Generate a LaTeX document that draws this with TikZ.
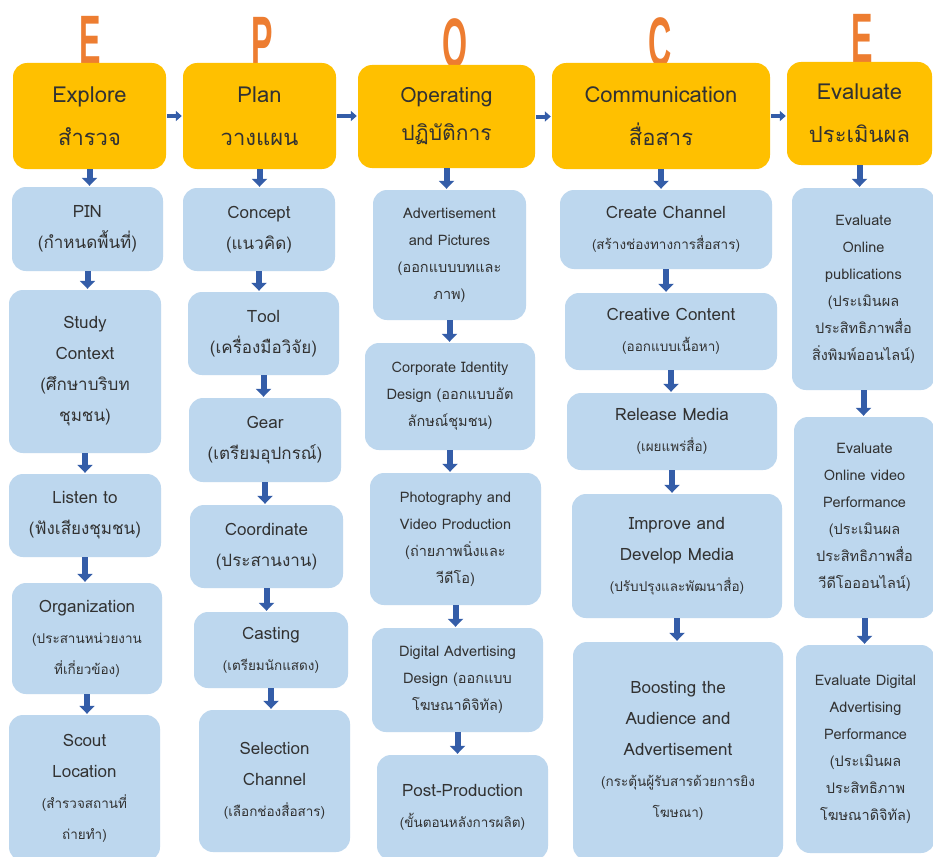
\documentclass[tikz,border=0pt]{standalone}
\usepackage{fontspec}
\setmainfont[Script=Thai]{Loma}
\newfontfamily\letterfont{Liberation Sans}
\usetikzlibrary{arrows.meta, positioning}
\definecolor{headyellow}{RGB}{255,192,0}
\definecolor{stepblue}{RGB}{189,215,238}
\definecolor{arrowblue}{RGB}{52,93,168}
\definecolor{letterorange}{RGB}{237,125,49}
\definecolor{textgray}{RGB}{50,50,50}
\newcommand{\thsmall}[1]{{\fontsize{13.5}{27}\selectfont #1}}
\newcommand{\tallletter}[1]{\scalebox{0.46}[1]{#1}}
\tikzset{
  head/.style={fill=headyellow, rounded corners=14pt, align=center, text=textgray, font=\fontsize{22}{43}\selectfont, inner sep=0pt},
  stepbox/.style={fill=stepblue, rounded corners=14pt, align=center, text=textgray, font=\fontsize{17}{31}\selectfont, inner sep=0pt},
  smallbox/.style={stepbox, font=\fontsize{14.5}{27}\selectfont},
  bigletter/.style={text=letterorange, font=\letterfont\bfseries\fontsize{70}{70}\selectfont, inner sep=0pt},
  vflow/.style={draw=arrowblue, line width=6pt, -{Triangle[length=8pt, width=15pt]}, shorten <=0pt, shorten >=1pt},
  hflow/.style={draw=arrowblue, line width=4pt, -{Triangle[length=6pt, width=10pt]}, shorten <=1pt, shorten >=1pt},
}

\begin{document}
\begin{tikzpicture}[x=1pt, y=-1pt]
  \useasboundingbox[fill=white] (0,0) rectangle (933,856);

  % EPOCE letters
  \node[bigletter] (letE1) at (90,40) {\tallletter{E}};
  \node[bigletter] (letP) at (262,41) {\tallletter{P}};
  \node[bigletter] (letO) at (455,43) {\tallletter{O}};
  \node[bigletter] (letC) at (660,42) {\tallletter{C}};
  \node[bigletter] (letE2) at (862,38) {\tallletter{E}};

  % stage headers
  \node[head, minimum width=153, minimum height=106] (explore) at (89.5,116) {Explore\\สำรวจ};
  \node[head, minimum width=153, minimum height=106] (plan) at (259.5,116) {Plan\\วางแผน};
  \node[head, minimum width=177, minimum height=103, font=\fontsize{21}{38}\selectfont] (operating) at (446.5,116.5) {Operating\\ปฏิบัติการ};
  \node[head, minimum width=218, minimum height=106] (communication) at (661,116) {Communication\\สื่อสาร};
  \node[head, minimum width=145, minimum height=103] (evaluate) at (859.5,113.5) {Evaluate\\ประเมินผล};

  % Explore column
  \node[stepbox, minimum width=151, minimum height=84] (pin) at (87.5,229) {PIN\\(กำหนดพื้นที่)};
  \node[stepbox, minimum width=152, minimum height=163] (context) at (85,371.5) {Study\\Context\\(ศึกษาบริบท\\ชุมชน)};
  \node[stepbox, minimum width=152, minimum height=83] (listen) at (85,515.5) {Listen to\\(ฟังเสียงชุมชน)};
  \node[stepbox, minimum width=150, minimum height=111] (organization) at (87,638.5) {Organization\\\thsmall{(ประสานหน่วยงาน}\\\thsmall{ที่เกี่ยวข้อง)}};
  \node[stepbox, minimum width=151, minimum height=146] (scout) at (84.5,788) {Scout\\Location\\\thsmall{(สำรวจสถานที่}\\\thsmall{ถ่ายทำ)}};

  % Plan column
  \node[stepbox, minimum width=152, minimum height=83] (concept) at (259,229.5) {Concept\\(แนวคิด)};
  \node[stepbox, minimum width=151, minimum height=83] (tool) at (263.5,333.5) {Tool\\(เครื่องมือวิจัย)};
  \node[stepbox, minimum width=152, minimum height=84] (gear) at (265,440) {Gear\\(เตรียมอุปกรณ์)};
  \node[stepbox, minimum width=153, minimum height=83] (coordinate) at (266.5,546.5) {Coordinate\\(ประสานงาน)};
  \node[stepbox, minimum width=154, minimum height=76] (casting) at (271,650) {Casting\\\thsmall{(เตรียมนักแสดง)}};
  \node[stepbox, minimum width=151, minimum height=142] (selection) at (274.5,781) {Selection\\Channel\\\thsmall{(เลือกช่องสื่อสาร)}};

  % Operating column
  \node[smallbox, minimum width=153, minimum height=130] (adpic) at (449.5,255) {Advertisement\\and Pictures\\(ออกแบบบทและ\\ภาพ)};
  \node[smallbox, minimum width=170, minimum height=107] (identity) at (450,396.5) {Corporate Identity\\Design (ออกแบบอัต\\ลักษณ์ชุมชน)};
  \node[smallbox, minimum width=171, minimum height=132] (photo) at (455.5,539) {Photography and\\Video Production\\(ถ่ายภาพนิ่งและ\\วีดีโอ)};
  \node[smallbox, minimum width=171, minimum height=104] (digital) at (457.5,680) {Digital Advertising\\Design (ออกแบบ\\โฆษณาดิจิทัล)};
  \node[stepbox, minimum width=171, minimum height=105] (postprod) at (462.5,807.5) {Post-Production\\\thsmall{(ขั้นตอนหลังการผลิต)}};

  % Communication column
  \node[stepbox, minimum width=212, minimum height=79] (channel) at (666,229.5) {Create Channel\\\thsmall{(สร้างช่องทางการสื่อสาร)}};
  \node[stepbox, minimum width=212, minimum height=77] (content) at (671,331.5) {Creative Content\\\thsmall{(ออกแบบเนื้อหา)}};
  \node[stepbox, minimum width=210, minimum height=77] (release) at (672,431.5) {Release Media\\\thsmall{(เผยแพร่สื่อ)}};
  \node[stepbox, minimum width=210, minimum height=124] (improve) at (677,556) {Improve and\\Develop Media\\\thsmall{(ปรับปรุงและพัฒนาสื่อ)}};
  \node[stepbox, minimum width=210, minimum height=218] (boosting) at (678,751) {Boosting the\\Audience and\\Advertisement\\\thsmall{(กระตุ้นผู้รับสารด้วยการยิง}\\\thsmall{โฆษณา)}};

  % Evaluate column
  \node[smallbox, minimum width=143, minimum height=202] (evalpub) at (863.5,289) {Evaluate\\Online\\publications\\(ประเมินผล\\ประสิทธิภาพสื่อ\\สิ่งพิมพ์ออนไลน์)};
  \node[smallbox, minimum width=141, minimum height=201] (evalvideo) at (864.5,517.5) {Evaluate\\Online video\\Performance\\(ประเมินผล\\ประสิทธิภาพสื่อ\\วีดีโอออนไลน์)};
  \node[smallbox, minimum width=139, minimum height=208] (evaldigital) at (865.5,749) {Evaluate Digital\\Advertising\\Performance\\(ประเมินผล\\ประสิทธิภาพ\\โฆษณาดิจิทัล)};

  % header arrows
  \draw[hflow] (explore.east) -- (explore.east -| plan.west);
  \draw[hflow] (plan.east) -- (plan.east -| operating.west);
  \draw[hflow] (operating.east) -- (operating.east -| communication.west);
  \draw[hflow] (communication.east) -- (communication.east -| evaluate.west);

  % column arrows
  \draw[vflow] (explore.south) -- (explore.south |- pin.north);
  \draw[vflow] (pin.south) -- (pin.south |- context.north);
  \draw[vflow] (context.south) -- (context.south |- listen.north);
  \draw[vflow] (listen.south) -- (listen.south |- organization.north);
  \draw[vflow] (organization.south) -- (organization.south |- scout.north);

  \draw[vflow] (plan.south) -- (plan.south |- concept.north);
  \draw[vflow] (concept.south) -- (concept.south |- tool.north);
  \draw[vflow] (tool.south) -- (tool.south |- gear.north);
  \draw[vflow] (gear.south) -- (gear.south |- coordinate.north);
  \draw[vflow] (coordinate.south) -- (coordinate.south |- casting.north);
  \draw[vflow] (casting.south) -- (casting.south |- selection.north);

  \draw[vflow] (operating.south) -- (operating.south |- adpic.north);
  \draw[vflow] (adpic.south) -- (adpic.south |- identity.north);
  \draw[vflow] (identity.south) -- (identity.south |- photo.north);
  \draw[vflow] (photo.south) -- (photo.south |- digital.north);
  \draw[vflow] (digital.south) -- (digital.south |- postprod.north);

  \draw[vflow] (communication.south) -- (communication.south |- channel.north);
  \draw[vflow] (channel.south) -- (channel.south |- content.north);
  \draw[vflow] (content.south) -- (content.south |- release.north);
  \draw[vflow] (release.south) -- (release.south |- improve.north);
  \draw[vflow] (improve.south) -- (improve.south |- boosting.north);

  \draw[vflow] (evaluate.south) -- (evaluate.south |- evalpub.north);
  \draw[vflow] (evalpub.south) -- (evalpub.south |- evalvideo.north);
  \draw[vflow] (evalvideo.south) -- (evalvideo.south |- evaldigital.north);
\end{tikzpicture}
\end{document}
